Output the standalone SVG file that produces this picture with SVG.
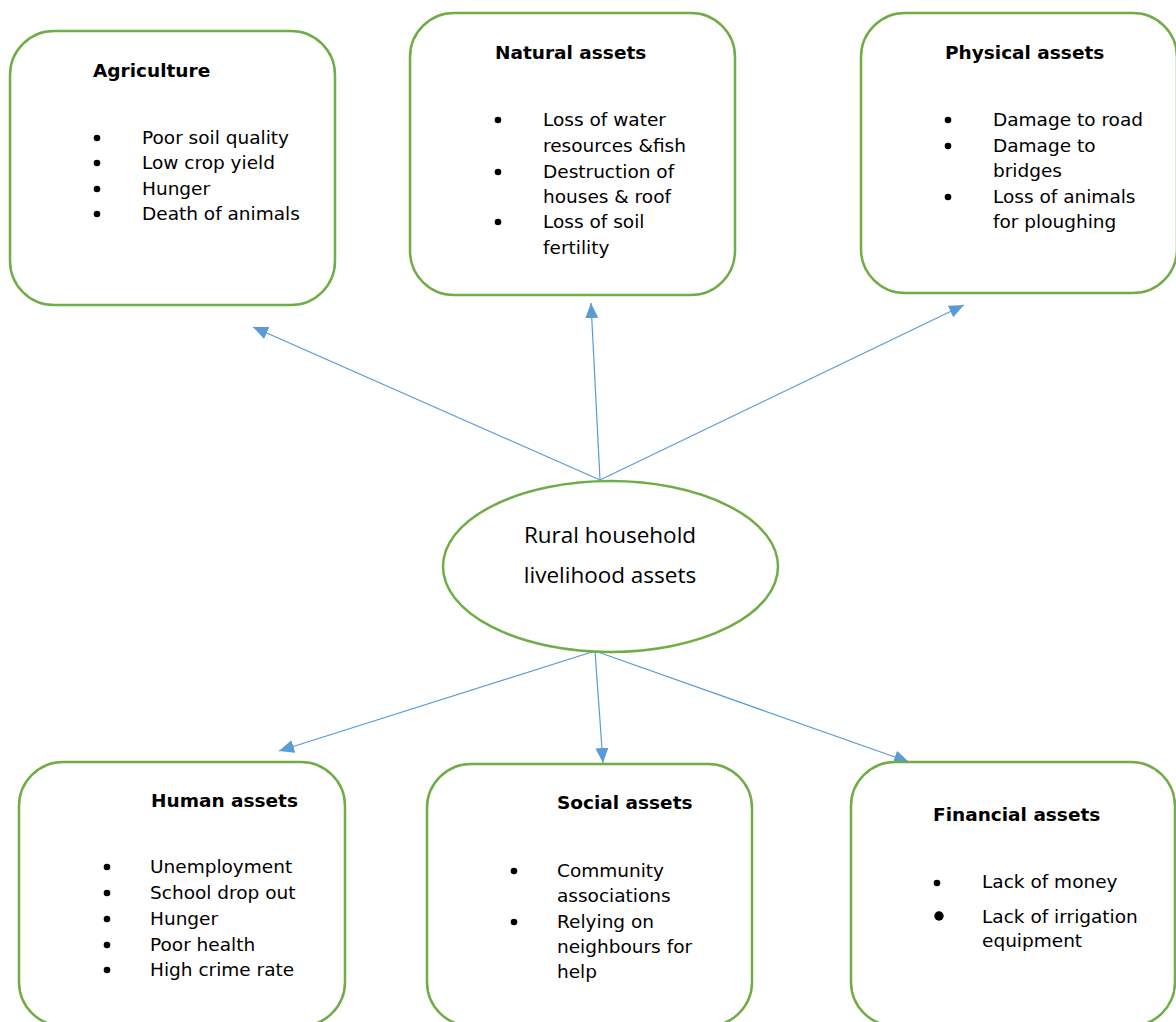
<svg xmlns="http://www.w3.org/2000/svg" width="1176" height="1022" viewBox="0 0 1176 1022">
<style>
.box{fill:#fff;stroke:#70AD47;stroke-width:2.5}
.ttl{font-family:"DejaVu Sans",Verdana,sans-serif;font-size:18.5px;font-weight:bold;fill:#000}
.txt{font-family:"DejaVu Sans",Verdana,sans-serif;font-size:18.5px;fill:#000}
.ctr{font-family:"Open Sans","DejaVu Sans",sans-serif;font-size:22.5px;fill:#000}
.con{stroke:#5B9BD5;stroke-width:1.2;fill:none;marker-end:url(#ah)}
.dot{fill:#000}
</style>
<defs>
<marker id="ah" markerUnits="userSpaceOnUse" markerWidth="16" markerHeight="14" refX="15" refY="6.5" orient="auto">
<path d="M0,0 L15,6.5 L0,13 z" fill="#5B9BD5"/>
</marker>
</defs>
<rect width="1176" height="1022" fill="#fff"/>
<g id="connectors">
<line class="con" x1="600" y1="480" x2="253" y2="327"/>
<line class="con" x1="600" y1="480" x2="591" y2="303"/>
<line class="con" x1="600" y1="480" x2="964" y2="305"/>
<line class="con" x1="595" y1="651" x2="279" y2="751"/>
<line class="con" x1="595" y1="651" x2="603" y2="763"/>
<line class="con" x1="595" y1="651" x2="909" y2="762"/>
</g>
<g id="agriculture">
<rect class="box" x="10" y="31" width="325" height="274" rx="44"/>
<text class="ttl" x="93" y="77">Agriculture</text>
<circle class="dot" cx="97" cy="138" r="3.3"/><text class="txt" x="142" y="144">Poor soil quality</text>
<circle class="dot" cx="97" cy="163" r="3.3"/><text class="txt" x="142" y="169">Low crop yield</text>
<circle class="dot" cx="97" cy="189" r="3.3"/><text class="txt" x="142" y="195">Hunger</text>
<circle class="dot" cx="97" cy="214" r="3.3"/><text class="txt" x="142" y="220">Death of animals</text>
</g>
<g id="natural">
<rect class="box" x="410" y="13" width="325" height="282" rx="44"/>
<text class="ttl" x="495" y="59">Natural assets</text>
<circle class="dot" cx="498" cy="120" r="3.3"/><text class="txt" x="543" y="126">Loss of water</text>
<text class="txt" x="543" y="152">resources &amp;fish</text>
<circle class="dot" cx="498" cy="172" r="3.3"/><text class="txt" x="543" y="178">Destruction of</text>
<text class="txt" x="543" y="203">houses &amp; roof</text>
<circle class="dot" cx="498" cy="222" r="3.3"/><text class="txt" x="543" y="228">Loss of soil</text>
<text class="txt" x="543" y="254">fertility</text>
</g>
<g id="physical">
<rect class="box" x="861" y="13" width="316" height="280" rx="44"/>
<text class="ttl" x="945" y="59">Physical assets</text>
<circle class="dot" cx="948" cy="120" r="3.3"/><text class="txt" x="993" y="126">Damage to road</text>
<circle class="dot" cx="948" cy="146" r="3.3"/><text class="txt" x="993" y="152">Damage to</text>
<text class="txt" x="993" y="177">bridges</text>
<circle class="dot" cx="948" cy="197" r="3.3"/><text class="txt" x="993" y="203">Loss of animals</text>
<text class="txt" x="993" y="228">for ploughing</text>
</g>
<g id="center">
<ellipse cx="610.5" cy="566.5" rx="167.5" ry="85.5" fill="#fff" stroke="#70AD47" stroke-width="2.5"/>
<text class="ctr" x="610" y="543" text-anchor="middle">Rural household</text>
<text class="ctr" x="610" y="583" text-anchor="middle">livelihood assets</text>
</g>
<g id="human">
<rect class="box" x="19" y="762" width="326" height="264" rx="44"/>
<text class="ttl" x="151" y="807">Human assets</text>
<circle class="dot" cx="107" cy="867" r="3.3"/><text class="txt" x="150" y="873">Unemployment</text>
<circle class="dot" cx="107" cy="893" r="3.3"/><text class="txt" x="150" y="899">School drop out</text>
<circle class="dot" cx="107" cy="919" r="3.3"/><text class="txt" x="150" y="925">Hunger</text>
<circle class="dot" cx="107" cy="945" r="3.3"/><text class="txt" x="150" y="951">Poor health</text>
<circle class="dot" cx="107" cy="970" r="3.3"/><text class="txt" x="150" y="976">High crime rate</text>
</g>
<g id="social">
<rect class="box" x="427" y="764" width="325" height="262" rx="44"/>
<text class="ttl" x="557" y="809">Social assets</text>
<circle class="dot" cx="514" cy="871" r="3.3"/><text class="txt" x="557" y="877">Community</text>
<text class="txt" x="557" y="902">associations</text>
<circle class="dot" cx="514" cy="922" r="3.3"/><text class="txt" x="557" y="928">Relying on</text>
<text class="txt" x="557" y="953">neighbours for</text>
<text class="txt" x="557" y="978">help</text>
</g>
<g id="financial">
<rect class="box" x="851" y="762" width="324" height="264" rx="44"/>
<text class="ttl" x="933" y="821">Financial assets</text>
<circle class="dot" cx="937" cy="883" r="3.3"/><text class="txt" x="982" y="888">Lack of money</text>
<circle class="dot" cx="939" cy="916" r="4.7"/><text class="txt" x="982" y="923">Lack of irrigation</text>
<text class="txt" x="982" y="947">equipment</text>
</g>
</svg>
